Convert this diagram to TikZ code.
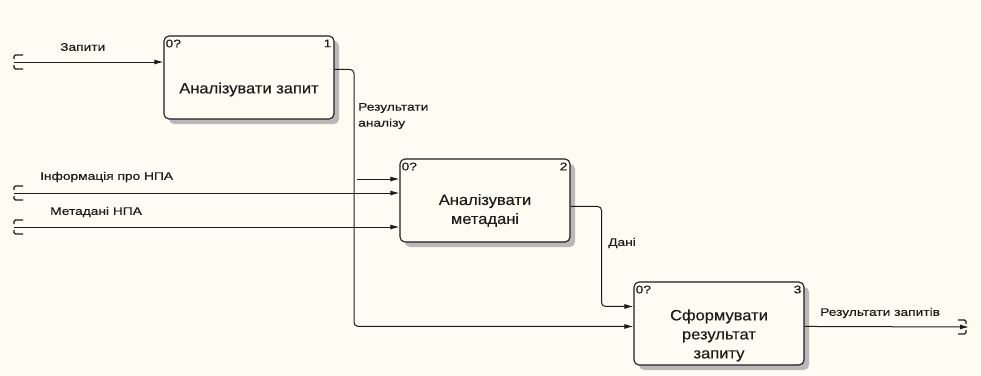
\documentclass[tikz,border=0pt]{standalone}
\usepackage{fontspec}
\setmainfont{Liberation Sans}
\newfontfamily\boxfont[FakeStretch=1.1, FakeBold=0.3]{Liberation Sans}
\newfontfamily\arrowfont[FakeStretch=1.25, FakeBold=0.4]{Liberation Sans}
\usetikzlibrary{arrows.meta,positioning,calc,shadows}

\definecolor{paper}{RGB}{253,252,242}
\definecolor{ink}{RGB}{28,28,28}

\begin{document}
\begin{tikzpicture}[x=1pt, y=-1pt,
  func/.style={rectangle, draw=ink, line width=1.1pt, fill=paper, rounded corners=5pt,
    minimum width=170pt, minimum height=83pt, inner sep=0pt,
    drop shadow={shadow xshift=5pt, shadow yshift=-5pt, fill=gray!55, opacity=1}},
  functext/.style={font=\boxfont\fontsize{15}{19}\selectfont, align=center, text=ink},
  tag/.style={font=\arrowfont\fontsize{11}{12}\selectfont, inner sep=0pt, text=ink},
  lbl/.style={font=\arrowfont\fontsize{11}{16}\selectfont, align=left, inner sep=0pt, anchor=west, text=ink},
  arrow/.style={-{Latex[length=9pt,width=5pt]}, line width=1pt, draw=ink, rounded corners=4pt},
  tunnel/.style={line width=1.2pt, draw=ink, rounded corners=1.5pt}
]
\fill[paper] (0,0) rectangle (981,375);

% function boxes
\node[func] (a1) at (249,77.5) {};
\node[func] (a2) at (485,200.5) {};
\node[func] (a3) at (719,323.5) {};

\node[functext] (t1) at ([yshift=-12pt]a1.center) {Аналізувати запит};
\node[functext] (t2) at ([yshift=-10pt]a2.center) {Аналізувати\\метадані};
\node[functext] (t3) at ([yshift=-12pt]a3.center) {Сформувати\\результат\\запиту};

\foreach \b/\n in {a1/1, a2/2, a3/3} {
  \node[tag, anchor=north west] (\b-node) at ([shift={(2,4)}]\b.north west) {0?};
  \node[tag, anchor=north east] (\b-num) at ([shift={(-3,4)}]\b.north east) {\n};
}

% boundary arrows
\coordinate (zap) at (14,62);
\coordinate (inf) at (14,193);
\coordinate (meta) at (14,227);
\coordinate (res) at (969,327);
\coordinate (split) at (354,179);

\foreach \c in {zap, inf, meta} {
  \draw[tunnel] ([shift={(9,-7)}]\c) -- ([shift={(0,-7)}]\c) -- ([shift={(0,-3)}]\c);
  \draw[tunnel] ([shift={(0,3)}]\c) -- ([shift={(0,7)}]\c) -- ([shift={(9,7)}]\c);
}
\draw[tunnel] ([shift={(-11,-7)}]res) -- ([shift={(-3,-7)}]res) -- ([shift={(-3,-3)}]res);
\draw[tunnel] ([shift={(-3,3)}]res) -- ([shift={(-3,7)}]res) -- ([shift={(-11,7)}]res);

\draw[arrow] (zap) -- (zap -| a1.west);
\draw[arrow] (inf) -- (inf -| a2.west);
\draw[arrow] (meta) -- (meta -| a2.west);

% flows between the functions
\draw[arrow] ($(a1.north east)+(0,34)$) -| (split) |- ($(a3.north west)+(0,45)$);
\draw[arrow] ([xshift=3pt]split) -- (split -| a2.west);
\draw[arrow] ($(a2.north east)+(0,48)$) -- ++(31,0) |- ($(a3.north west)+(0,25)$);
\draw[arrow] ($(a3.north east)+(0,45)$) -- (res);

% arrow labels
\node[lbl] (l-zap) at (60,47) {Запити};
\node[lbl] (l-inf) at (40,177) {Інформація про НПА};
\node[lbl] (l-meta) at (50,212) {Метадані НПА};
\node[lbl] (l-an) at (358,116) {Результати\\аналізу};
\node[lbl] (l-data) at (608,243) {Дані};
\node[lbl] (l-res) at (820,313) {Результати запитів};
\end{tikzpicture}
\end{document}
